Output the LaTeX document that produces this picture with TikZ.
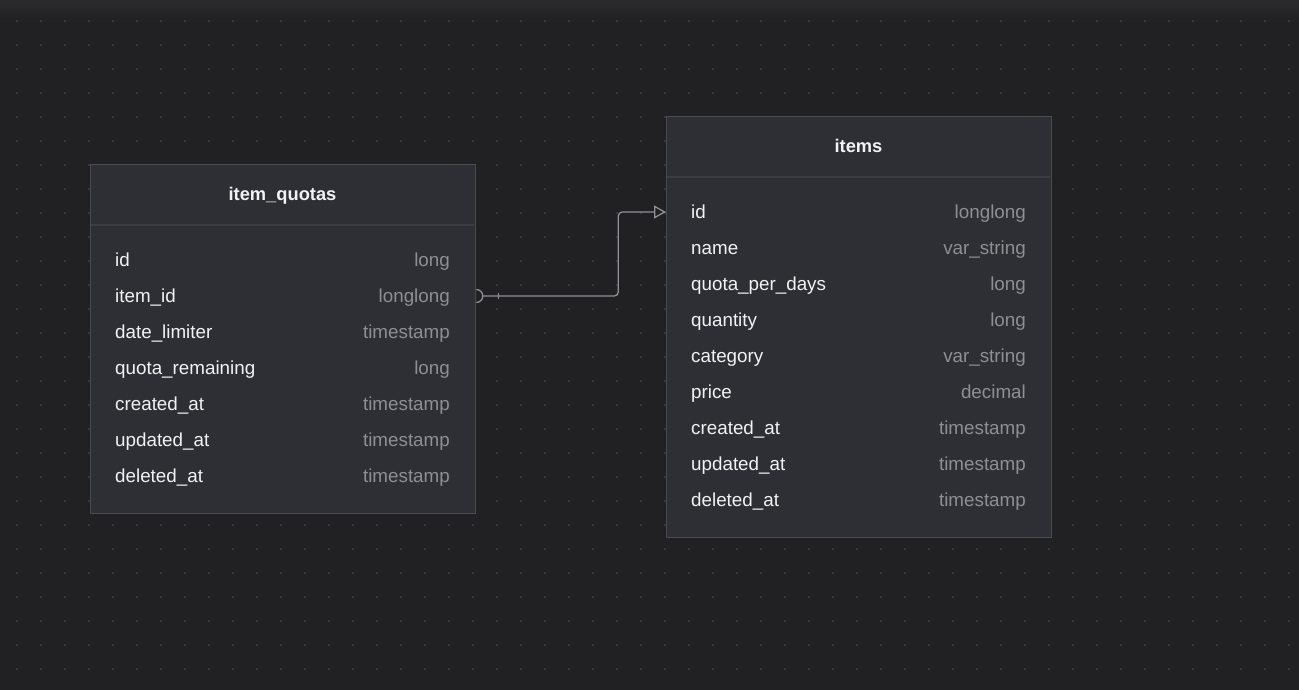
\documentclass[tikz,border=0pt]{standalone}
\usepackage{fontspec}
\setmainfont{Liberation Sans}
\usetikzlibrary{arrows.meta}
\definecolor{bgc}{HTML}{212124}
\definecolor{topc}{HTML}{2B2B2C}
\definecolor{dotc}{HTML}{36363B}
\definecolor{tblfill}{HTML}{2E2F34}
\definecolor{tblborder}{HTML}{4A4B50}
\definecolor{divc}{HTML}{3C3D42}
\definecolor{namec}{HTML}{F2F2F4}
\definecolor{typec}{HTML}{8E8E93}
\definecolor{connc}{HTML}{909095}
\tikzset{
  tbl/.style={draw=tblborder, fill=tblfill, line width=1.3pt, rectangle, inner sep=0pt, anchor=north west},
  divider/.style={draw=divc, line width=1.2pt},
  ttl/.style={text=namec, font=\fontsize{18.3}{22}\selectfont\bfseries, anchor=base, inner sep=0pt},
  fname/.style={text=namec, font=\fontsize{18.8}{22}\selectfont, anchor=base west, inner sep=0pt},
  ftype/.style={text=typec, font=\fontsize{18.8}{22}\selectfont, anchor=base east, inner sep=0pt},
  conn/.style={draw=connc, line width=1.3pt},
}
\begin{document}
\begin{tikzpicture}[x=1pt,y=-1pt]
\useasboundingbox (0,0) rectangle (1299,690);
\fill[bgc] (0,0) rectangle (1299,690);
\shade[top color=topc, bottom color=bgc] (0,0) rectangle (1299,18);
\foreach \i in {0,...,53} {
  \foreach \j in {0,...,28} {
    \fill[dotc] (16+24*\i, 20+24*\j) rectangle ++(2,2);
  }
}
% item_quotas table
\node[tbl, minimum width=385pt, minimum height=349pt] (qt) at (90,164) {};
\draw[divider] (90.7,225) -- (474.3,225);
\node[ttl] (qtt) at (282.5,200.5) {item\_quotas};
\foreach \n/\t/\k in {id/long/1, item\_id/longlong/2, date\_limiter/timestamp/3, quota\_remaining/long/4, created\_at/timestamp/5, updated\_at/timestamp/6, deleted\_at/timestamp/7} {
  \node[fname] (qn\k) at (115,{260+36*(\k-1)+6.8}) {\n};
  \node[ftype] (qy\k) at (450,{260+36*(\k-1)+6.8}) {\t};
}
% items table
\node[tbl, minimum width=385pt, minimum height=421pt] (it) at (666,116) {};
\draw[divider] (666.7,177) -- (1050.3,177);
\node[ttl] (itt) at (858.5,152.5) {items};
\foreach \n/\t/\k in {id/longlong/1, name/var\_string/2, quota\_per\_days/long/3, quantity/long/4, category/var\_string/5, price/decimal/6, created\_at/timestamp/7, updated\_at/timestamp/8, deleted\_at/timestamp/9} {
  \node[fname] (in\k) at (691,{212+36*(\k-1)+6.8}) {\n};
  \node[ftype] (iy\k) at (1026,{212+36*(\k-1)+6.8}) {\t};
}
% connector
\coordinate (qa) at (qt.east |- 0,296);
\coordinate (ia) at (it.west |- 0,212);
\draw[conn] (qa) ++(0,-6.5) arc[start angle=-90, end angle=90, radius=6.5];
\draw[conn, rounded corners=4pt, -{Triangle[open, length=12pt, width=13pt, line width=1.3pt]}]
  ([xshift=6.5pt]qa) -- ([xshift=142pt]qa) |- (ia);
\draw[conn] ([xshift=22pt]qa) ++(0,-3) -- ++(0,6);
\end{tikzpicture}
\end{document}
